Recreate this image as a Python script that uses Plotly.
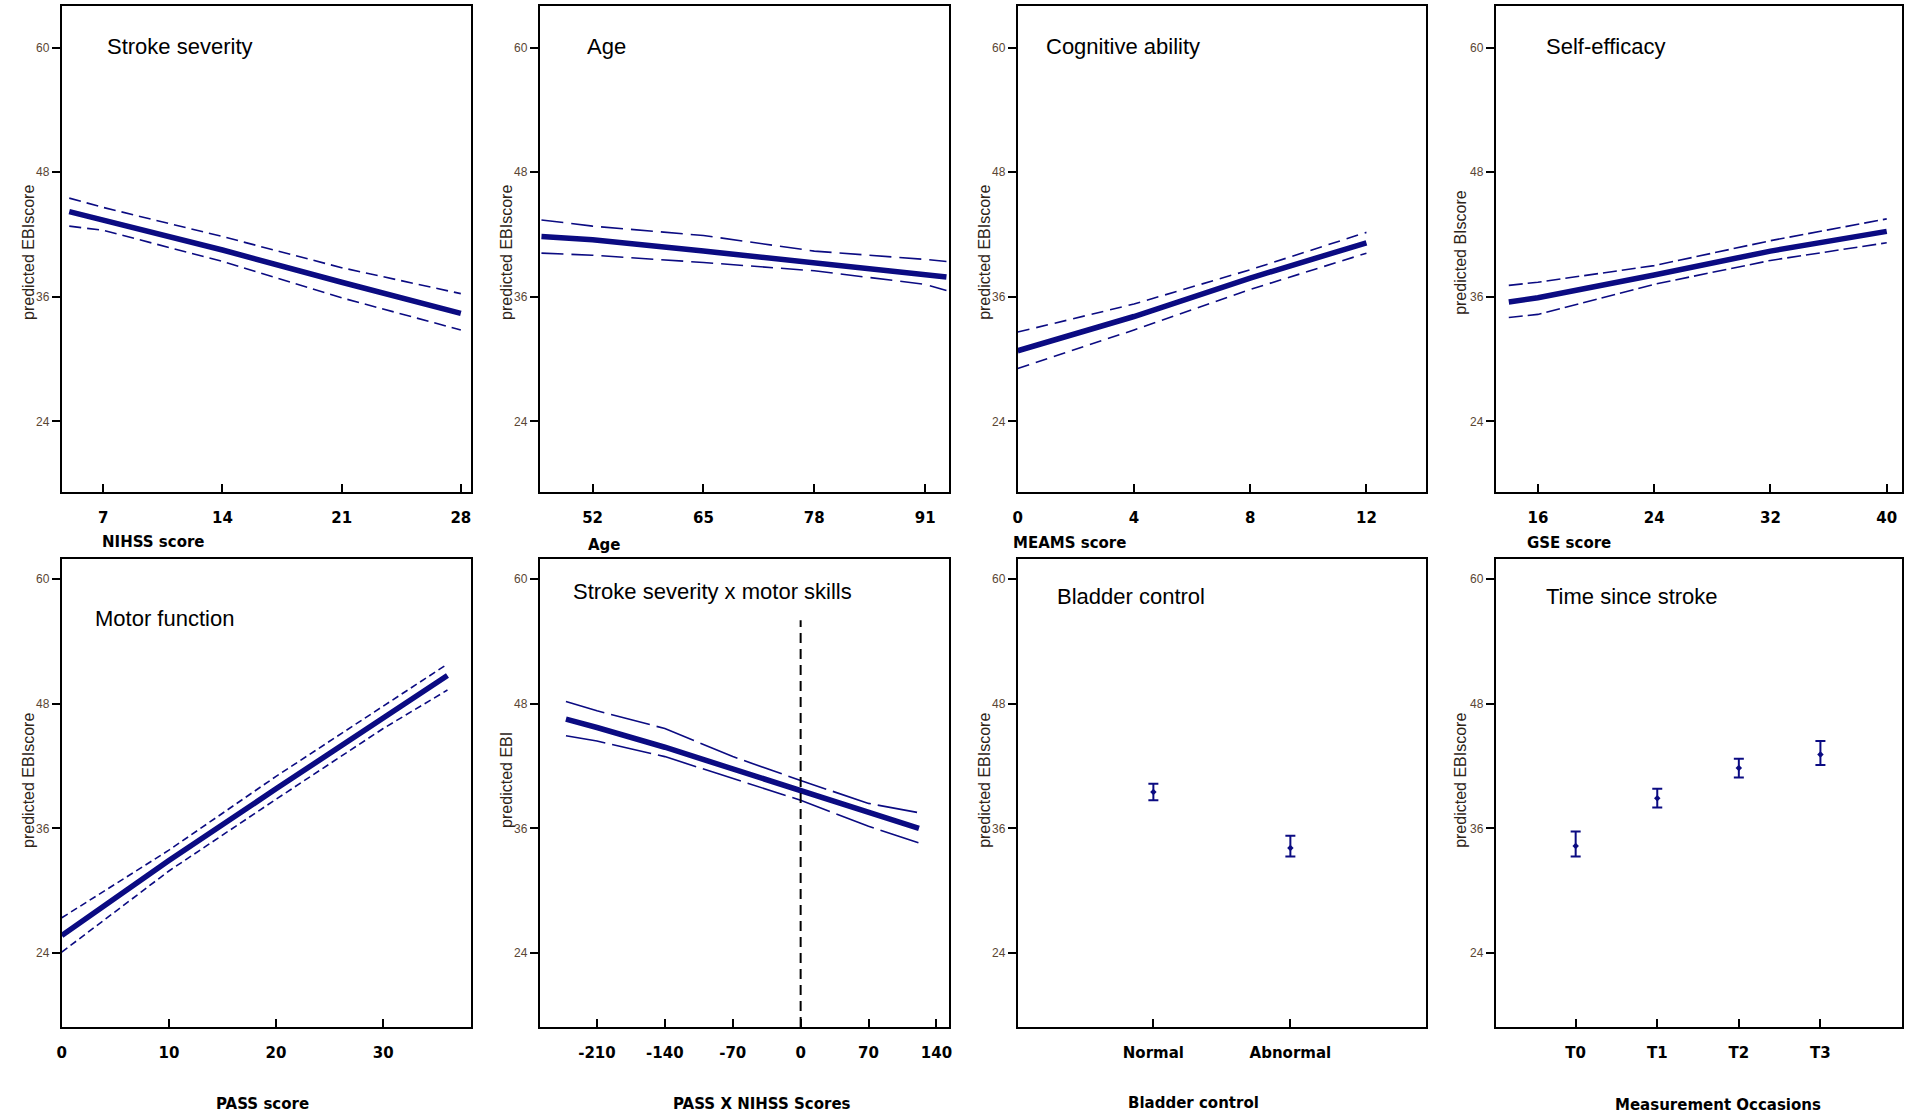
import plotly.graph_objects as go

W, H = 1906, 1117
NAVY = "#0b0b82"

# ---------------- data ----------------
# Panel 1: Stroke severity (NIHSS score)
nihss_x = [5, 7, 14, 21, 28]
nihss_fit = [44.2, 43.4, 40.5, 37.4, 34.4]
nihss_hi = [45.5, 44.6, 41.8, 38.8, 36.3]
nihss_lo = [42.8, 42.4, 39.4, 35.9, 32.8]

# Panel 2: Age
age_x = [46, 52, 65, 78, 91, 93.5]
age_fit = [41.8, 41.5, 40.4, 39.3, 38.2, 37.9]
age_hi = [43.4, 42.8, 41.9, 40.4, 39.6, 39.4]
age_lo = [40.2, 40.0, 39.3, 38.5, 37.2, 36.6]

# Panel 3: Cognitive ability (MEAMS score)
meams_x = [0, 4, 8, 12]
meams_fit = [30.8, 34.1, 37.8, 41.2]
meams_hi = [32.6, 35.3, 38.6, 42.2]
meams_lo = [29.1, 32.8, 36.7, 40.2]

# Panel 4: Self-efficacy (GSE score)
gse_x = [14, 16, 24, 32, 40]
gse_fit = [35.5, 35.9, 38.1, 40.4, 42.3]
gse_hi = [37.1, 37.4, 39.0, 41.4, 43.5]
gse_lo = [34.0, 34.3, 37.2, 39.5, 41.2]

# Panel 5: Motor function (PASS score)
pass_x = [0, 10, 20, 30, 36]
pass_fit = [25.7, 32.9, 39.8, 46.7, 50.7]
pass_hi = [27.4, 33.9, 41.0, 47.7, 51.8]
pass_lo = [24.1, 31.9, 38.8, 45.6, 49.3]

# Panel 6: Stroke severity x motor skills (PASS X NIHSS)
inter_x = [-242, -210, -140, -70, 0, 70, 122]
inter_fit = [46.5, 45.7, 43.8, 41.7, 39.6, 37.6, 36.0]
inter_hi = [48.2, 47.3, 45.6, 42.9, 40.6, 38.4, 37.5]
inter_lo = [44.9, 44.4, 42.9, 40.8, 38.7, 36.2, 34.6]
inter_ticks = [-210, -140, -70, 0, 70, 140]
inter_ticktext = ["-210", "-140", "-70", "0", "70", "140"]

# Panel 7: Bladder control
bladder_cat = ["Normal", "Abnormal"]
bladder_mean = [39.5, 34.1]
bladder_hi = [40.3, 35.3]
bladder_lo = [38.7, 33.3]

# Panel 8: Time since stroke
time_cat = ["T0", "T1", "T2", "T3"]
time_mean = [34.3, 38.9, 41.8, 43.1]
time_hi = [35.7, 39.8, 42.7, 44.4]
time_lo = [33.3, 38.0, 40.9, 42.1]

y_ticks = [24, 36, 48, 60]

# ---------------- layout geometry (pixels) ----------------
cols_px = [(57, 468), (537, 948), (1017, 1427), (1497, 1905)]
rows_px = [(6, 492), (559, 1027)]


def dom_x(c):
    return [c[0] / W, c[1] / W]


def dom_y(r):
    return [1 - r[1] / H, 1 - r[0] / H]


fig = go.Figure()


def add_band(i, x, fit, hi, lo, dash):
    ax = dict(xaxis="x%d" % i, yaxis="y%d" % i)
    for yy in (hi, lo):
        fig.add_trace(go.Scatter(x=x, y=yy, mode="lines", showlegend=False,
                                 line=dict(color=NAVY, width=1.6, dash=dash), **ax))
    fig.add_trace(go.Scatter(x=x, y=fit, mode="lines", showlegend=False,
                             line=dict(color=NAVY, width=5.5), **ax))


def add_err(i, cats, mean, hi, lo):
    xs = list(range(len(cats)))
    fig.add_trace(go.Scatter(
        x=xs, y=mean, mode="markers", showlegend=False,
        marker=dict(color=NAVY, size=5, symbol="diamond"),
        error_y=dict(type="data", symmetric=False,
                     array=[h - m for h, m in zip(hi, mean)],
                     arrayminus=[m - l for m, l in zip(mean, lo)],
                     color=NAVY, thickness=2, width=5),
        xaxis="x%d" % i, yaxis="y%d" % i))


add_band(1, nihss_x, nihss_fit, nihss_hi, nihss_lo, "12px,6px")
add_band(2, age_x, age_fit, age_hi, age_lo, "22px,8px")
add_band(3, meams_x, meams_fit, meams_hi, meams_lo, "12px,7px")
add_band(4, gse_x, gse_fit, gse_hi, gse_lo, "14px,5px")
add_band(5, pass_x, pass_fit, pass_hi, pass_lo, "7px,4px")
add_band(6, inter_x, inter_fit, inter_hi, inter_lo, "40px,7px")
add_err(7, bladder_cat, bladder_mean, bladder_hi, bladder_lo)
add_err(8, time_cat, time_mean, time_hi, time_lo)

# reference line at 0 in panel 6
fig.add_trace(go.Scatter(x=[0, 0], y=[16.9, 56.0], mode="lines", showlegend=False,
                         line=dict(color="black", width=2, dash="10px,6px"),
                         xaxis="x6", yaxis="y6"))

x_ranges = [[4.56, 28.6], [45.8, 93.8], [0, 14.05], [13.1, 41.05],
            [0, 38.2], [-269, 153], [-0.99, 1.99], [-0.98, 4.0]]
x_tickvals = [[7, 14, 21, 28], [52, 65, 78, 91], [0, 4, 8, 12], [16, 24, 32, 40],
              [0, 10, 20, 30], inter_ticks, [0, 1], [0, 1, 2, 3]]
x_ticktext = [None, None, None, None, None, inter_ticktext, bladder_cat, time_cat]
y_ranges = [[17.2, 64.0], [16.9, 61.9]]

layout = dict(width=W, height=H, margin=dict(l=0, r=0, t=0, b=0),
              paper_bgcolor="white", plot_bgcolor="white", showlegend=False)

for i in range(8):
    n = i + 1
    r = 0 if i < 4 else 1
    c = i % 4
    xa = dict(domain=dom_x(cols_px[c]), range=x_ranges[i], tickvals=x_tickvals[i],
              ticks="inside", ticklen=8, tickwidth=2, tickcolor="black",
              showline=True, linewidth=2, linecolor="black", mirror=True,
              showgrid=False, zeroline=False, anchor="y%d" % n,
              ticklabelstandoff=11,
              tickfont=dict(family="DejaVu Sans", size=15, color="black", weight="bold"))
    if x_ticktext[i] is not None:
        xa["ticktext"] = x_ticktext[i]
    ya = dict(domain=dom_y(rows_px[r]), range=y_ranges[r], tickvals=y_ticks,
              ticks="outside", ticklen=8, tickwidth=1.5, tickcolor="black",
              showline=True, linewidth=2, linecolor="black", mirror=True,
              showgrid=False, zeroline=False, anchor="x%d" % n,
              tickfont=dict(family="Liberation Sans, Arial", size=12, color="#5a4634"))
    layout["xaxis%d" % n] = xa
    layout["yaxis%d" % n] = ya

fig.update_layout(**layout)

# ---------------- text annotations ----------------
titles = [("Stroke severity", 100, 46), ("Age", 582, 46), ("Cognitive ability", 1043, 46),
          ("Self-efficacy", 1545, 46), ("Motor function", 88, 618),
          ("Stroke severity x motor skills", 568, 591), ("Bladder control", 1054, 596),
          ("Time since stroke", 1545, 596)]
for t, px, py in titles:
    fig.add_annotation(text=t, x=px / W, y=1 - py / H, xref="paper", yref="paper",
                       xanchor="left", yanchor="middle", showarrow=False,
                       font=dict(family="Liberation Sans, Arial", size=22, color="black"))

xtitles_left = [("NIHSS score", 95, 542), ("Age", 583, 545), ("MEAMS score", 1010, 543),
                ("GSE score", 1526, 543)]
for t, px, py in xtitles_left:
    fig.add_annotation(text=t, x=px / W, y=1 - py / H, xref="paper", yref="paper",
                       xanchor="left", yanchor="middle", showarrow=False,
                       font=dict(family="DejaVu Sans", size=15, color="black", weight="bold"))

xtitles_center = [("PASS score", 259, 1104), ("PASS X NIHSS Scores", 760, 1104),
                  ("Bladder control", 1194, 1103), ("Measurement Occasions", 1720, 1105)]
for t, px, py in xtitles_center:
    fig.add_annotation(text=t, x=px / W, y=1 - py / H, xref="paper", yref="paper",
                       xanchor="center", yanchor="middle", showarrow=False,
                       font=dict(family="DejaVu Sans", size=15, color="black", weight="bold"))

ytitles = [("predicted EBIscore", 24, 252), ("predicted EBIscore", 504, 252),
           ("predicted EBIscore", 984, 252), ("predicted BIscore", 1462, 252),
           ("predicted EBIscore", 24, 780), ("predicted EBI", 504, 780),
           ("predicted EBIscore", 984, 780), ("predicted EBIscore", 1462, 780)]
for t, px, py in ytitles:
    fig.add_annotation(text=t, x=px / W, y=1 - py / H, xref="paper", yref="paper",
                       xanchor="center", yanchor="middle", showarrow=False, textangle=-90,
                       font=dict(family="Liberation Sans, Arial", size=16, color="#2e2418"))

fig.write_html("out.html",
               config={"displayModeBar": False},
               post_script="document.body.style.margin='0px';"
                           "document.body.style.overflow='hidden';")
